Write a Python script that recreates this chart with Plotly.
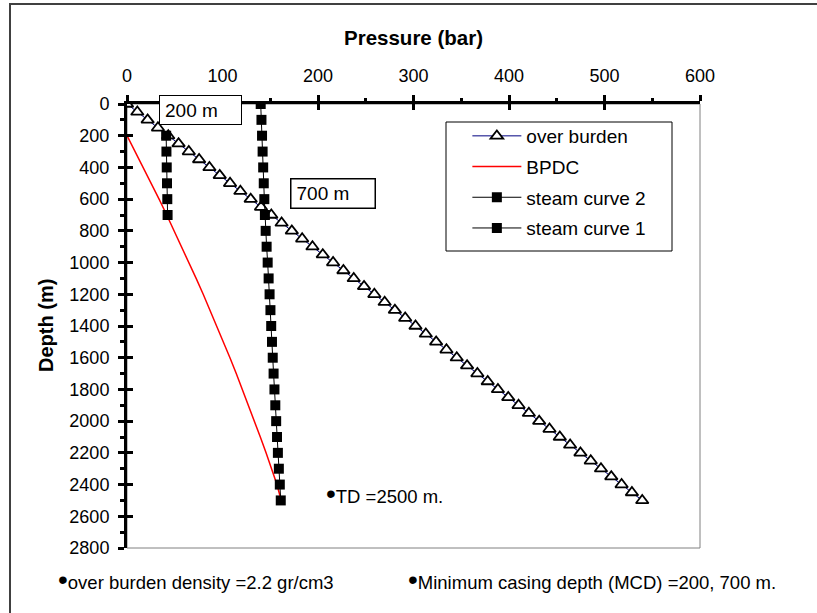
import plotly.graph_objects as go

# ---------------- data ----------------
ob_depth = [0, 50, 100, 150, 200, 250, 300, 350, 400, 450, 500, 550, 600, 650, 700,
            750, 800, 850, 900, 950, 1000, 1050, 1100, 1150, 1200, 1250, 1300, 1350,
            1400, 1450, 1500, 1550, 1600, 1650, 1700, 1750, 1800, 1850, 1900, 1950,
            2000, 2050, 2100, 2150, 2200, 2250, 2300, 2350, 2400, 2450, 2500]
ob_pressure = [0.0, 10.8, 21.6, 32.4, 43.2, 54.0, 64.7, 75.5, 86.3, 97.1, 107.9, 118.7,
               129.5, 140.3, 151.1, 161.9, 172.6, 183.4, 194.2, 205.0, 215.8, 226.6,
               237.4, 248.2, 259.0, 269.8, 280.5, 291.3, 302.1, 312.9, 323.7, 334.5,
               345.3, 356.1, 366.9, 377.7, 388.4, 399.2, 410.0, 420.8, 431.6, 442.4,
               453.2, 464.0, 474.8, 485.6, 496.3, 507.1, 517.9, 528.7, 539.5]

bpdc_depth = [200, 300, 400, 500, 600, 700, 800, 900, 1000, 1100, 1200, 1300, 1400,
              1500, 1600, 1700, 1800, 1900, 2000, 2100, 2200, 2300, 2400, 2500]
bpdc_pressure = [0.0, 8.6, 17.1, 25.4, 33.6, 41.6, 49.5, 57.3, 64.9, 72.4, 79.8, 87.0,
                 94.0, 101.0, 107.8, 114.4, 120.9, 127.3, 133.5, 139.6, 145.6, 151.4,
                 157.0, 161.5]

steam2_depth = [200, 300, 400, 500, 600, 700]
steam2_pressure = [41.0, 41.3, 41.6, 41.9, 42.2, 42.5]

steam1_depth = [0, 100, 200, 300, 400, 500, 600, 700, 800, 900, 1000, 1100, 1200, 1300,
                1400, 1500, 1600, 1700, 1800, 1900, 2000, 2100, 2200, 2300, 2400, 2500]
steam1_pressure = [140.0, 140.8, 141.4, 142.0, 142.6, 143.2, 143.8, 144.4, 145.2, 146.2,
                   147.3, 148.3, 149.3, 150.2, 151.0, 151.8, 152.6, 153.5, 154.4, 155.3,
                   156.2, 157.1, 158.0, 159.0, 160.0, 161.0]

x_ticks = [0, 100, 200, 300, 400, 500, 600]
y_ticks = [0, 200, 400, 600, 800, 1000, 1200, 1400, 1600, 1800, 2000, 2200, 2400, 2600, 2800]

FONT = "Liberation Sans, Arial, sans-serif"
BULLET = '<span style="font-size:28px">\u2022</span>'

fig = go.Figure()

fig.add_trace(go.Scatter(
    x=ob_pressure, y=ob_depth, name="over burden", mode="lines+markers",
    line=dict(color="#000080", width=1),
    marker=dict(symbol="triangle-up", size=11, color="white",
                line=dict(color="black", width=1.8)),
    legendgroup="a"))
fig.add_trace(go.Scatter(
    x=bpdc_pressure, y=bpdc_depth, name="BPDC", mode="lines",
    line=dict(color="#ff0000", width=1.5), legendgroup="b"))
fig.add_trace(go.Scatter(
    x=steam2_pressure, y=steam2_depth, name="steam curve 2", mode="lines+markers",
    line=dict(color="black", width=1),
    marker=dict(symbol="square", size=10, color="black"), legendgroup="c"))
fig.add_trace(go.Scatter(
    x=steam1_pressure, y=steam1_depth, name="steam curve 1", mode="lines+markers",
    line=dict(color="black", width=1),
    marker=dict(symbol="square", size=10, color="black"), legendgroup="d"))

# dummy trace for overlay axes (inside half of crossing ticks)
fig.add_trace(go.Scatter(x=[None], y=[None], xaxis="x2", yaxis="y2",
                         showlegend=False, hoverinfo="skip", mode="lines"))

axis_common = dict(showgrid=False, zeroline=False)

fig.update_layout(
    width=817, height=613,
    margin=dict(l=127, r=117, t=104, b=65),
    paper_bgcolor="white", plot_bgcolor="white",
    font=dict(family=FONT, size=18, color="black"),
    xaxis=dict(range=[0, 600], side="top", tickvals=x_ticks,
               ticks="outside", ticklen=6, tickwidth=3, tickcolor="black",
               minor=dict(ticks="outside", dtick=50, ticklen=3, tickwidth=2.5,
                          tickcolor="black"),
               showline=True, linewidth=3, linecolor="black",
               tickfont=dict(size=18), ticklabelstandoff=6, **axis_common),
    yaxis=dict(range=[2800, 0], tickvals=y_ticks,
               ticks="outside", ticklen=6, tickwidth=3, tickcolor="black",
               minor=dict(ticks="outside", dtick=100, ticklen=4, tickwidth=2.5,
                          tickcolor="black"),
               showline=True, linewidth=3, linecolor="black",
               tickfont=dict(size=18), ticklabelstandoff=5, **axis_common),
    xaxis2=dict(range=[0, 600], overlaying="x", side="top", anchor="y2",
                tickvals=x_ticks, ticks="inside", ticklen=6, tickwidth=3,
                tickcolor="black", showticklabels=False, showline=False,
                **axis_common),
    yaxis2=dict(range=[2800, 0], overlaying="y", side="left", anchor="x2",
                tickvals=y_ticks, ticks="inside", ticklen=6, tickwidth=3,
                tickcolor="black", showticklabels=False, showline=False,
                **axis_common),
    showlegend=True,
    legend=dict(x=0.594, y=0.9707, xanchor="left", yanchor="top",
                bgcolor="rgba(0,0,0,0)", borderwidth=0,
                font=dict(family=FONT, size=19),
                traceorder="grouped", tracegroupgap=3, itemwidth=49),
)

px_x = lambda p: (p - 127) / 573.0
px_y = lambda p: (548 - p) / 444.0

shapes = [
    # outer chart frame (right/bottom edges fall outside the picture)
    dict(type="rect", xref="paper", yref="paper", x0=px_x(10), x1=px_x(840),
         y0=px_y(640), y1=px_y(4), line=dict(color="#404040", width=2),
         layer="below"),
    # plot area border
    dict(type="rect", xref="paper", yref="paper", x0=0, x1=1, y0=0, y1=1,
         line=dict(color="#808080", width=1), layer="below"),
    # legend box
    dict(type="rect", xref="paper", yref="paper", x0=px_x(446), x1=px_x(672),
         y0=px_y(251), y1=px_y(122), line=dict(color="black", width=1),
         layer="below"),
]
fig.update_layout(shapes=shapes)

annotations = [
    dict(text="<b>Pressure (bar)</b>", xref="paper", yref="paper", x=0.5,
         y=px_y(38), xanchor="center", yanchor="middle", showarrow=False,
         font=dict(size=20.5)),
    dict(text="<b>Depth (m)</b>", xref="paper", yref="paper", x=px_x(46),
         y=0.5, xanchor="center", yanchor="middle", textangle=-90,
         showarrow=False, font=dict(size=20)),
    dict(text="200 m", xref="paper", yref="paper", x=px_x(159), y=px_y(95),
         xanchor="left", yanchor="top", showarrow=False, align="left",
         width=71, height=18, borderpad=5, bordercolor="black", borderwidth=1,
         bgcolor="white", font=dict(size=19)),
    dict(text="700 m", xref="paper", yref="paper", x=px_x(290), y=px_y(178),
         xanchor="left", yanchor="top", showarrow=False, align="left",
         width=73, height=18, borderpad=5, bordercolor="black", borderwidth=1.5,
         bgcolor="white", font=dict(size=19)),
    dict(text=BULLET + "TD =2500 m.", xref="paper", yref="paper", x=px_x(324),
         y=px_y(493), xanchor="left", yanchor="middle", showarrow=False,
         font=dict(size=18.5)),
    dict(text=BULLET + "over burden density =2.2 gr/cm3", xref="paper", yref="paper",
         x=px_x(56), y=px_y(579), xanchor="left", yanchor="middle",
         showarrow=False, font=dict(size=18.5)),
    dict(text=BULLET + "Minimum casing depth (MCD) =200, 700 m.", xref="paper",
         yref="paper", x=px_x(406), y=px_y(579), xanchor="left",
         yanchor="middle", showarrow=False, font=dict(size=18.5)),
]
fig.update_layout(annotations=annotations)

fig.write_html("out.html")
